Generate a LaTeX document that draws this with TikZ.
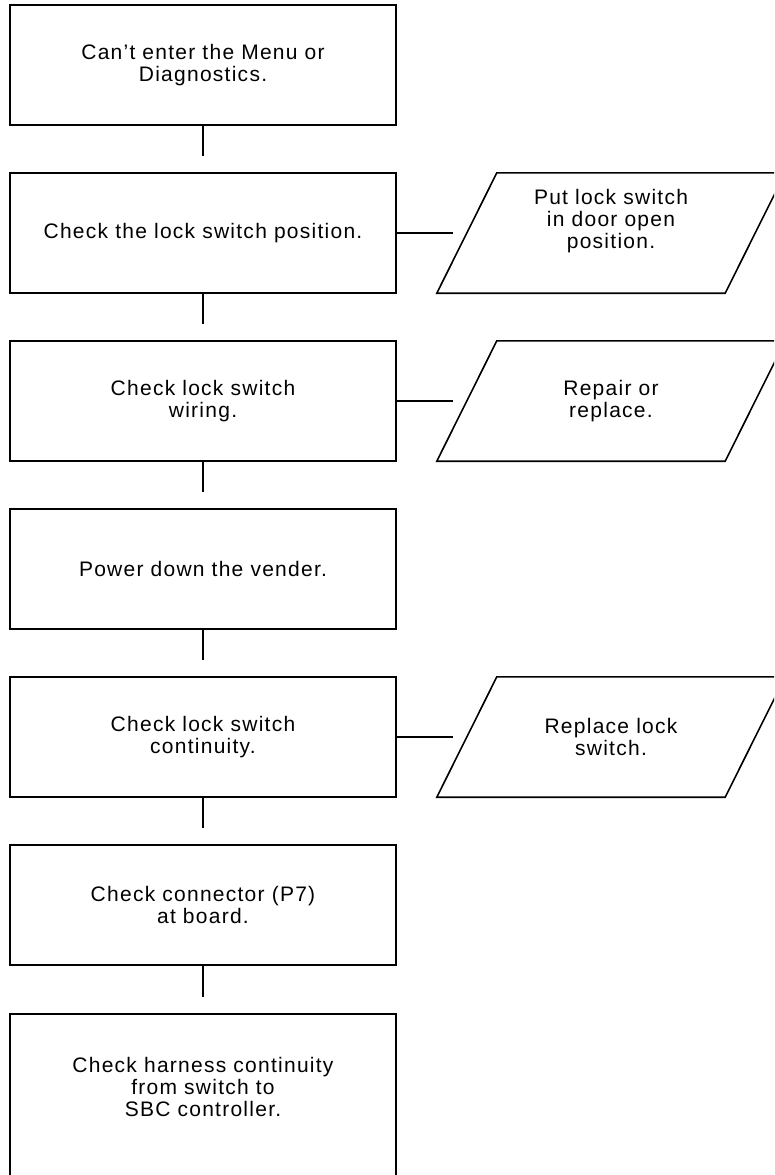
\documentclass[tikz,border=0pt]{standalone}
\usepackage{fontspec}
\setmainfont{Liberation Sans}[LetterSpace=6]

\begin{document}
\begin{tikzpicture}[x=1pt, y=-1pt,
        stepbox/.style={draw, line width=1.6pt, minimum width=386pt, minimum height=120pt,
            inner sep=0pt, align=center, font=\fontsize{21}{22}\selectfont},
        fixbox/.style={minimum width=288pt, minimum height=120pt,
            inner sep=0pt, align=center, font=\fontsize{21}{22}\selectfont},
        link/.style={line width=1.6pt}]
        \useasboundingbox (0, 0) rectangle (774, 1175);
        \clip (0, 0) rectangle (774, 1175);

        \node[stepbox] (menu) at (203, 65) {Can't enter the Menu or\\Diagnostics.};
        \node[stepbox] (lockpos) at (203, 233) {Check the lock switch position.};
        \node[stepbox] (wiring) at (203, 401) {Check lock switch\\wiring.};
        \node[stepbox] (power) at (203, 569) {Power down the vender.};
        \node[stepbox] (contin) at (203, 737) {Check lock switch\\continuity.};
        \node[stepbox] (plug) at (203, 905) {Check connector (P7)\\at board.};
        \node[stepbox, minimum height=190pt, anchor=north] (harness) at (203, 1013) {};
        \node[align=center, font=\fontsize{21}{22}\selectfont] (harnesstext) at (203, 1087)
            {Check harness continuity\\from switch to\\SBC controller.};

        \node[fixbox] (putopen) at (611, 233) {Put lock switch\\in door open\\position.\\\strut};
        \node[fixbox] (repair) at (611, 401) {Repair or\\replace.};
        \node[fixbox] (newswitch) at (611, 737) {Replace lock\\switch.};
        \foreach \n in {putopen, repair, newswitch}
            \draw[link] ([xshift=-30pt]\n.south west) -- ([xshift=30pt]\n.north west)
                -- ([xshift=30pt]\n.north east) -- ([xshift=-30pt]\n.south east) -- cycle;

        \draw[link, shorten >=16pt] (menu) -- (lockpos);
        \draw[link, shorten >=16pt] (lockpos) -- (wiring);
        \draw[link, shorten >=16pt] (wiring) -- (power);
        \draw[link, shorten >=16pt] (power) -- (contin);
        \draw[link, shorten >=16pt] (contin) -- (plug);
        \draw[link, shorten >=16pt] (plug) -- (harness);

        \draw[link, shorten >=14pt] (lockpos) -- (putopen);
        \draw[link, shorten >=14pt] (wiring) -- (repair);
        \draw[link, shorten >=14pt] (contin) -- (newswitch);
    \end{tikzpicture}
\end{document}
